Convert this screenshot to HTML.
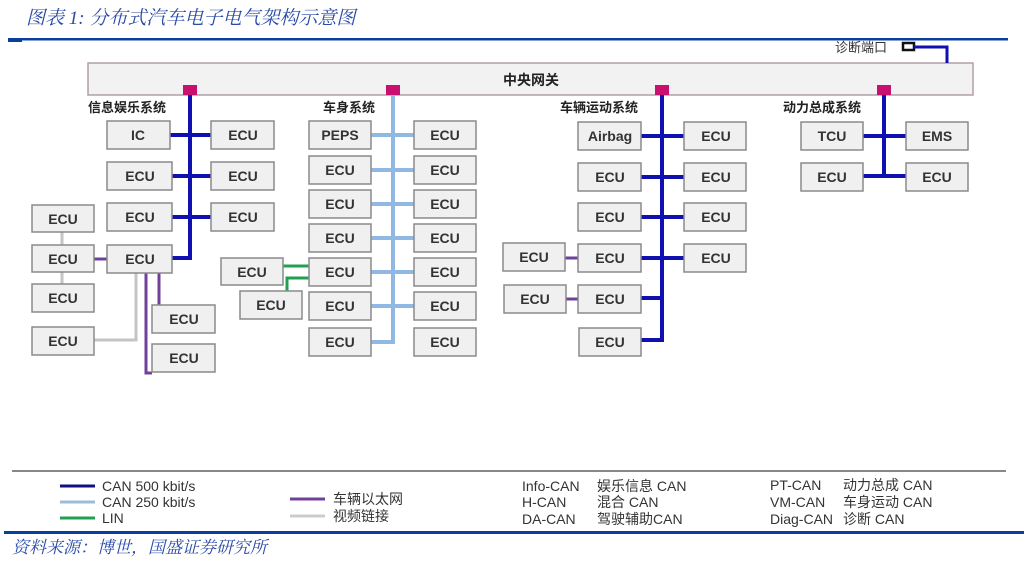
<!DOCTYPE html>
<html><head><meta charset="utf-8"><style>
html,body{margin:0;padding:0;background:#fff;}
svg{display:block;}
text{font-family:"Liberation Sans","Noto Sans CJK SC",sans-serif;}
.b{fill:#f0f0f0;stroke:#8a8a8a;stroke-width:1.5;}
.t{font-size:14px;fill:#333;text-anchor:middle;font-weight:bold;}
.lab{font-size:13px;fill:#222;font-weight:bold;}
.lg{font-size:14px;fill:#333;}
.db{stroke:#1010b0;stroke-width:4;fill:none;}
.lb{stroke:#8fb8e2;stroke-width:4;fill:none;}
.gr{stroke:#22a050;stroke-width:3;fill:none;}
.pu{stroke:#70409a;stroke-width:3;fill:none;}
.gy{stroke:#c4c4c4;stroke-width:3;fill:none;}
</style></head><body>
<svg width="1028" height="567" viewBox="0 0 1028 567" xmlns="http://www.w3.org/2000/svg">
<text x="26" y="24" style="font-family:'Liberation Serif','Noto Serif CJK SC',serif;font-style:italic;font-size:19px;fill:#2a4aa8">图表 1:  分布式汽车电子电气架构示意图</text>
<rect x="8" y="38" width="1000" height="2.5" fill="#0a3fa0"/>
<rect x="8" y="38" width="14" height="4" fill="#0a3fa0"/>

<!-- gateway -->
<rect x="88" y="63" width="885" height="32" fill="#f2f2f2" stroke="#b0a0a8" stroke-width="1.5"/>
<text x="531" y="85" class="lab" text-anchor="middle" style="font-size:14px">中央网关</text>
<text x="835" y="52" class="lab" style="font-weight:normal;fill:#333">诊断端口</text>
<rect x="903" y="43" width="11" height="7" fill="#fff" stroke="#111" stroke-width="2.5"/>
<path d="M914 47 H947 V63" stroke="#1010b0" stroke-width="3" fill="none"/>

<!-- buses -->
<path class="db" d="M190 95 V258 H172"/>
<path class="db" d="M170 135 H211 M172 176 H211 M172 217 H211"/>
<path class="lb" d="M393 95 V342 H371"/>
<path class="lb" d="M371 135 H414 M371 170 H414 M371 204 H414 M371 238 H414 M371 272 H414 M371 306 H414"/>
<path class="db" d="M662 95 V340 H641"/>
<path class="db" d="M641 136 H684 M641 177 H684 M641 217 H684 M641 258 H684 M641 298 H662"/>
<path class="db" d="M884 95 V176 H863 M863 136 H906 M884 176 H906"/>

<!-- info extras -->
<path class="gy" d="M62 232 V245 M62 272 V284"/>
<path class="pu" d="M94 259 H107"/>
<path class="gy" d="M136 272 V340 H94"/>
<path class="pu" d="M146 272 V373 H152 M159 272 V305"/>
<path class="gr" d="M283 266 H309 M309 278 H287 V291"/>
<path class="pu" d="M565 258 H578 M565 299 H578"/>

<g>
<rect x="183" y="85" width="14" height="10" fill="#c8106e"/>
<rect x="386" y="85" width="14" height="10" fill="#c8106e"/>
<rect x="655" y="85" width="14" height="10" fill="#c8106e"/>
<rect x="877" y="85" width="14" height="10" fill="#c8106e"/>
</g>

<text x="88" y="112" class="lab">信息娱乐系统</text>
<text x="323" y="112" class="lab">车身系统</text>
<text x="560" y="112" class="lab">车辆运动系统</text>
<text x="783" y="112" class="lab">动力总成系统</text>

<!-- boxes -->
<g>
<rect class="b" x="107" y="121" width="63" height="28"/><text class="t" x="138" y="140">IC</text>
<rect class="b" x="211" y="121" width="63" height="28"/><text class="t" x="243" y="140">ECU</text>
<rect class="b" x="107" y="162" width="65" height="28"/><text class="t" x="140" y="181">ECU</text>
<rect class="b" x="211" y="162" width="63" height="28"/><text class="t" x="243" y="181">ECU</text>
<rect class="b" x="107" y="203" width="65" height="28"/><text class="t" x="140" y="222">ECU</text>
<rect class="b" x="211" y="203" width="63" height="28"/><text class="t" x="243" y="222">ECU</text>
<rect class="b" x="107" y="245" width="65" height="28"/><text class="t" x="140" y="264">ECU</text>
<rect class="b" x="32" y="205" width="62" height="27"/><text class="t" x="63" y="224">ECU</text>
<rect class="b" x="32" y="245" width="62" height="27"/><text class="t" x="63" y="264">ECU</text>
<rect class="b" x="32" y="284" width="62" height="28"/><text class="t" x="63" y="303">ECU</text>
<rect class="b" x="32" y="327" width="62" height="28"/><text class="t" x="63" y="346">ECU</text>
<rect class="b" x="152" y="305" width="63" height="28"/><text class="t" x="184" y="324">ECU</text>
<rect class="b" x="152" y="344" width="63" height="28"/><text class="t" x="184" y="363">ECU</text>

<rect class="b" x="309" y="121" width="62" height="28"/><text class="t" x="340" y="140">PEPS</text>
<rect class="b" x="309" y="156" width="62" height="28"/><text class="t" x="340" y="175">ECU</text>
<rect class="b" x="309" y="190" width="62" height="28"/><text class="t" x="340" y="209">ECU</text>
<rect class="b" x="309" y="224" width="62" height="28"/><text class="t" x="340" y="243">ECU</text>
<rect class="b" x="309" y="258" width="62" height="28"/><text class="t" x="340" y="277">ECU</text>
<rect class="b" x="309" y="292" width="62" height="28"/><text class="t" x="340" y="311">ECU</text>
<rect class="b" x="309" y="328" width="62" height="28"/><text class="t" x="340" y="347">ECU</text>
<rect class="b" x="414" y="121" width="62" height="28"/><text class="t" x="445" y="140">ECU</text>
<rect class="b" x="414" y="156" width="62" height="28"/><text class="t" x="445" y="175">ECU</text>
<rect class="b" x="414" y="190" width="62" height="28"/><text class="t" x="445" y="209">ECU</text>
<rect class="b" x="414" y="224" width="62" height="28"/><text class="t" x="445" y="243">ECU</text>
<rect class="b" x="414" y="258" width="62" height="28"/><text class="t" x="445" y="277">ECU</text>
<rect class="b" x="414" y="292" width="62" height="28"/><text class="t" x="445" y="311">ECU</text>
<rect class="b" x="414" y="328" width="62" height="28"/><text class="t" x="445" y="347">ECU</text>
<rect class="b" x="221" y="258" width="62" height="27"/><text class="t" x="252" y="277">ECU</text>
<rect class="b" x="240" y="291" width="62" height="28"/><text class="t" x="271" y="310">ECU</text>

<rect class="b" x="578" y="122" width="63" height="28"/><text class="t" x="610" y="141">Airbag</text>
<rect class="b" x="578" y="163" width="63" height="28"/><text class="t" x="610" y="182">ECU</text>
<rect class="b" x="578" y="203" width="63" height="28"/><text class="t" x="610" y="222">ECU</text>
<rect class="b" x="578" y="244" width="63" height="28"/><text class="t" x="610" y="263">ECU</text>
<rect class="b" x="578" y="285" width="63" height="28"/><text class="t" x="610" y="304">ECU</text>
<rect class="b" x="579" y="328" width="62" height="28"/><text class="t" x="610" y="347">ECU</text>
<rect class="b" x="684" y="122" width="62" height="28"/><text class="t" x="716" y="141">ECU</text>
<rect class="b" x="684" y="163" width="62" height="28"/><text class="t" x="716" y="182">ECU</text>
<rect class="b" x="684" y="203" width="62" height="28"/><text class="t" x="716" y="222">ECU</text>
<rect class="b" x="684" y="244" width="62" height="28"/><text class="t" x="716" y="263">ECU</text>
<rect class="b" x="503" y="243" width="62" height="28"/><text class="t" x="534" y="262">ECU</text>
<rect class="b" x="504" y="285" width="62" height="28"/><text class="t" x="535" y="304">ECU</text>

<rect class="b" x="801" y="122" width="62" height="28"/><text class="t" x="832" y="141">TCU</text>
<rect class="b" x="801" y="163" width="62" height="28"/><text class="t" x="832" y="182">ECU</text>
<rect class="b" x="906" y="122" width="62" height="28"/><text class="t" x="937" y="141">EMS</text>
<rect class="b" x="906" y="163" width="62" height="28"/><text class="t" x="937" y="182">ECU</text>
</g>

<!-- legend -->
<rect x="12" y="470" width="994" height="2" fill="#888"/>
<rect x="4" y="531" width="1020" height="3" fill="#0a3fa0"/>
<path d="M60 486 H95" stroke="#101080" stroke-width="3"/>
<path d="M60 502 H95" stroke="#9cbcd8" stroke-width="3"/>
<path d="M60 518 H95" stroke="#22a050" stroke-width="3"/>
<text x="102" y="491" class="lg">CAN 500 kbit/s</text>
<text x="102" y="507" class="lg">CAN 250 kbit/s</text>
<text x="102" y="523" class="lg">LIN</text>
<path d="M290 499 H325" stroke="#70409a" stroke-width="3"/>
<path d="M290 516 H325" stroke="#ccc" stroke-width="3"/>
<text x="333" y="504" class="lg">车辆以太网</text>
<text x="333" y="521" class="lg">视频链接</text>
<text x="522" y="491" class="lg">Info-CAN</text>
<text x="522" y="507" class="lg">H-CAN</text>
<text x="522" y="524" class="lg">DA-CAN</text>
<text x="597" y="491" class="lg">娱乐信息 CAN</text>
<text x="597" y="507" class="lg">混合 CAN</text>
<text x="597" y="524" class="lg">驾驶辅助CAN</text>
<text x="770" y="490" class="lg">PT-CAN</text>
<text x="770" y="507" class="lg">VM-CAN</text>
<text x="770" y="524" class="lg">Diag-CAN</text>
<text x="843" y="490" class="lg">动力总成 CAN</text>
<text x="843" y="507" class="lg">车身运动 CAN</text>
<text x="843" y="524" class="lg">诊断 CAN</text>

<text x="12" y="553" style="font-family:'Liberation Serif','Noto Serif CJK SC',serif;font-style:italic;font-size:17px;fill:#2a4aa8">资料来源：博世，国盛证券研究所</text>
</svg>
</body></html>
